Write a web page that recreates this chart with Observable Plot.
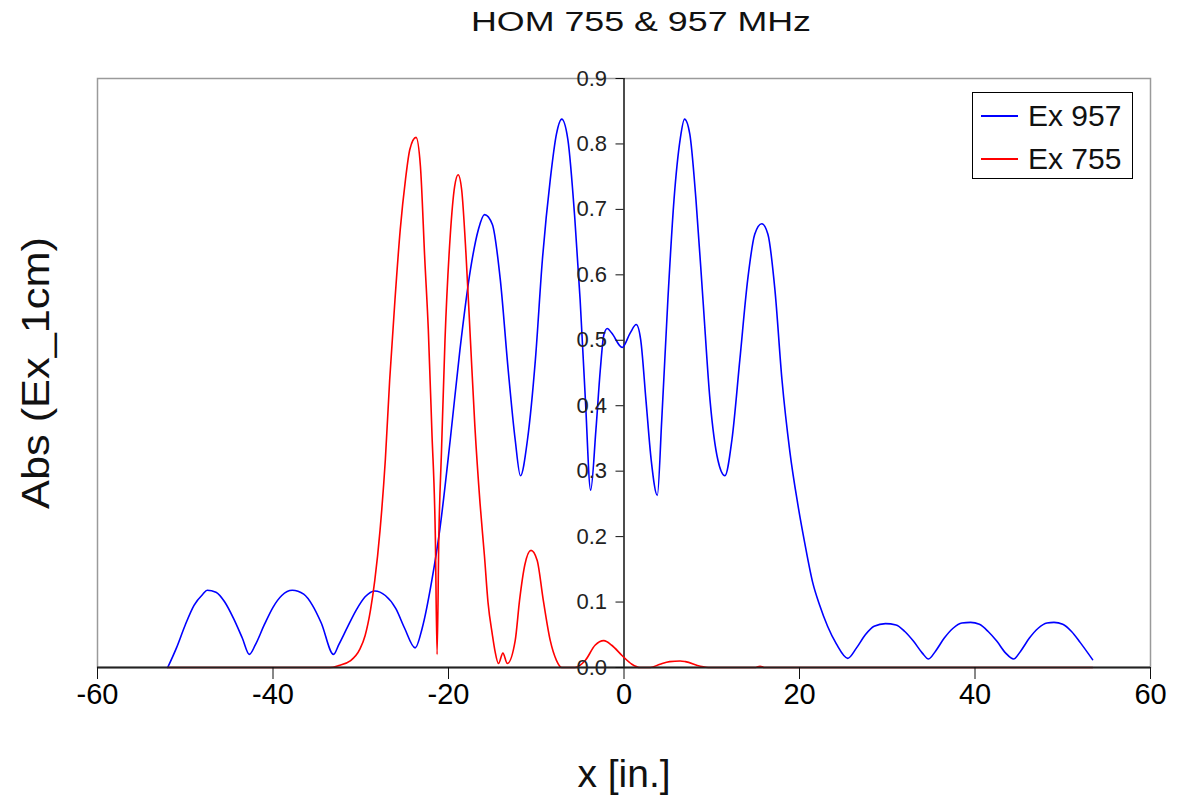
<!DOCTYPE html>
<html>
<head>
<meta charset="utf-8">
<script src="https://cdn.jsdelivr.net/npm/d3@7"></script>
<script src="https://cdn.jsdelivr.net/npm/@observablehq/plot@0.6"></script>
<style>
  html, body { margin: 0; padding: 0; background: #fff; }
  #wrap { position: relative; width: 1178px; height: 803px; font-family: "Liberation Sans", Arial, sans-serif; }
  #legend { position: absolute; left: 972px; top: 92px; width: 159px; height: 85px; border: 1.5px solid #000; background: #fff; }
  .entry { position: absolute; left: 0; height: 40px; display: flex; align-items: center; font-size: 30px; color: #111; }
  .swatch { width: 37px; height: 0; border-top: 2px solid; margin-left: 8px; margin-right: 10px; }
</style>
</head>
<body>
<div id="wrap">
  <div id="chart"></div>
  <div id="legend"></div>
</div>
<script>
// ---- data ----
const title = "HOM 755 & 957 MHz";
const xLabel = "x [in.]";
const yLabel = "Abs (Ex_1cm)";
const seriesNames = ["Ex 957", "Ex 755"];
const seriesColors = ["#0000ff", "#ff0000"];
const xTicks = [-60, -40, -20, 0, 20, 40, 60];
const yTicks = [0.0, 0.1, 0.2, 0.3, 0.4, 0.5, 0.6, 0.7, 0.8, 0.9];

const x957 = [-52, -51, -50, -49, -48, -47.5, -46.5, -45.5, -44.5, -43.5, -42.7, -42, -41, -40, -39, -37.8, -36.5, -35.5, -34.5, -33.1,
  -32.5, -31.5, -30.5, -29.5, -28.4, -27.2, -26, -25, -23.8, -23, -21.9, -21, -19.8, -18.7, -17.5, -16.6, -15.9, -15, -14.1, -13.2,
  -12.4, -11.8, -11.0, -10.1, -9.3, -8.4, -7.7, -7.1, -6.4, -5.6, -5.0, -4.4, -3.8, -3.2, -2.7, -2.3, -1.9, -1.4, -0.2, 0.7,
  1.4, 1.9, 2.5, 3.1, 3.8, 4.3, 5.0, 5.7, 6.4, 6.9, 7.5, 8.2, 9.0, 9.8, 10.7, 11.5, 12.3, 13.2, 14.1, 14.9,
  15.7, 16.4, 17.2, 18.0, 18.9, 19.8, 20.6, 21.5, 22.3, 23.2, 24.2, 25.5, 26.5, 27.5, 28.5, 29.8, 31, 32, 33, 34,
  34.7, 35.5, 36.5, 37.5, 38.5, 39.5, 40.5, 41.5, 42.5, 43.5, 44.4, 45.2, 46.2, 47.2, 48.2, 49, 50, 51, 52, 53.4];
const y957 = [0.0, 0.03, 0.065, 0.095, 0.112, 0.118, 0.115, 0.1, 0.075, 0.045, 0.02, 0.035, 0.065, 0.092, 0.11, 0.118, 0.112, 0.095, 0.068, 0.02,
  0.035, 0.062, 0.088, 0.108, 0.117, 0.11, 0.09, 0.06, 0.03, 0.06, 0.133, 0.21, 0.348, 0.485, 0.608, 0.669, 0.692, 0.677, 0.593, 0.455,
  0.348, 0.293, 0.348, 0.47, 0.623, 0.746, 0.815, 0.838, 0.807, 0.685, 0.562, 0.409, 0.271, 0.363, 0.455, 0.508, 0.518, 0.511, 0.489, 0.511,
  0.524, 0.501, 0.409, 0.317, 0.263, 0.378, 0.562, 0.715, 0.807, 0.838, 0.815, 0.715, 0.562, 0.409, 0.317, 0.293, 0.348, 0.47, 0.593, 0.662,
  0.678, 0.662, 0.577, 0.44, 0.33, 0.25, 0.19, 0.13, 0.095, 0.063, 0.036, 0.014, 0.03, 0.05, 0.063, 0.067, 0.065, 0.055, 0.04, 0.022,
  0.013, 0.025, 0.045, 0.06, 0.068, 0.069, 0.066, 0.055, 0.04, 0.022, 0.013, 0.025, 0.045, 0.06, 0.068, 0.069, 0.066, 0.055, 0.038, 0.012];

const x755 = [-52, -42.5, -33.5, -32.5, -31.2, -30.1, -29.5, -28.9, -28.4, -27.8, -27.2, -26.7, -26.1, -25.5, -24.9, -24.4, -23.7, -23.2, -22.7, -22.3,
  -21.9, -21.5, -21.3, -21.1, -20.8, -20.4, -19.8, -19.3, -18.9, -18.5, -18.0, -17.5, -17.0, -16.4, -15.9, -15.5, -15.0, -14.7, -14.3, -13.8,
  -13.3, -12.4, -11.9, -11.3, -10.6, -9.9, -9.2, -8.4, -7.7, -7.1, -5.6, -4.4, -3.3, -2.3, -1.4, -0.2, 0.9, 1.8, 3.0, 4.1,
  5.2, 6.4, 7.0, 8.7, 9.8, 15, 15.5, 16, 53.4];
const y755 = [0, 0, 0, 0.003, 0.01, 0.028, 0.049, 0.087, 0.133, 0.21, 0.317, 0.44, 0.562, 0.669, 0.746, 0.792, 0.81, 0.766, 0.623, 0.516,
  0.363, 0.2, 0.02, 0.2, 0.33, 0.5, 0.66, 0.735, 0.753, 0.73, 0.63, 0.5, 0.37, 0.25, 0.17, 0.1, 0.05, 0.025, 0.006, 0.022,
  0.006, 0.041, 0.103, 0.157, 0.179, 0.164, 0.103, 0.041, 0.011, 0, 0, 0.011, 0.034, 0.041, 0.034, 0.018, 0.005, 0, 0, 0.005,
  0.009, 0.010, 0.009, 0.002, 0, 0, 0.002, 0, 0];

// ---- build ----
const W = 1178, H = 803;
const mL = 97, mR = 28, mT = 78, mB = 136;
const xDomain = [-60, 60];
const yAxisDx = (0 - xDomain[0]) / (xDomain[1] - xDomain[0]) * (W - mL - mR);

const s957 = x957.map((x, i) => ({x, y: y957[i]}));
const s755 = x755.map((x, i) => ({x, y: y755[i]}));

const font = "'Liberation Sans', Arial, sans-serif";

const chart = Plot.plot({
  width: W, height: H,
  marginLeft: mL, marginRight: mR, marginTop: mT, marginBottom: mB,
  style: {fontFamily: font, background: "#fff", overflow: "visible"},
  x: {domain: xDomain},
  y: {domain: [0, 0.9]},
  marks: [
    Plot.frame({stroke: "#9a9a9a", strokeWidth: 1.5}),
    Plot.ruleX([0], {stroke: "#111", strokeWidth: 1.5}),
    Plot.line(s957, {x: "x", y: "y", stroke: seriesColors[0], strokeWidth: 1.6, curve: "monotone-x"}),
    Plot.line(s755, {x: "x", y: "y", stroke: seriesColors[1], strokeWidth: 1.6, curve: "monotone-x"}),
    Plot.ruleY([0], {stroke: "#222", strokeWidth: 1.8}),
    Plot.axisX({ticks: xTicks, tickSize: 12, tickPadding: 4, fontSize: 29, tickFormat: d => String(d), label: null, stroke: "#111", color: "#000"}),
    Plot.axisY({ticks: yTicks, anchor: "left", dx: yAxisDx, tickSize: 8, tickPadding: 9, fontSize: 22, tickFormat: d => d.toFixed(1), label: null, stroke: "#111", color: "#222"}),
    Plot.text([xLabel], {frameAnchor: "bottom", dy: 119, text: d => d, fontSize: 39, fill: "#111"}),
    Plot.text([yLabel], {frameAnchor: "left", textAnchor: "middle", dx: -61, rotate: -90, text: d => d, fontSize: 39, fill: "#111", className: "ylab"}),
    Plot.text([title], {frameAnchor: "top", dx: 17, dy: -67, text: d => d, fontSize: 27, fill: "#111", className: "ttl"})
  ]
});
document.getElementById("chart").appendChild(chart);
d3.select(chart).select(".ttl text").attr("textLength", 340).attr("lengthAdjust", "spacingAndGlyphs");
d3.select(chart).select(".ylab text").attr("textLength", 272).attr("lengthAdjust", "spacingAndGlyphs");

// legend
const leg = document.getElementById("legend");
seriesNames.forEach((name, i) => {
  const e = document.createElement("div");
  e.className = "entry";
  e.style.top = (3 + i * 43) + "px";
  const sw = document.createElement("div");
  sw.className = "swatch";
  sw.style.borderTopColor = seriesColors[i];
  e.appendChild(sw);
  const t = document.createElement("span");
  t.textContent = name;
  e.appendChild(t);
  leg.appendChild(e);
});
</script>
</body>
</html>
